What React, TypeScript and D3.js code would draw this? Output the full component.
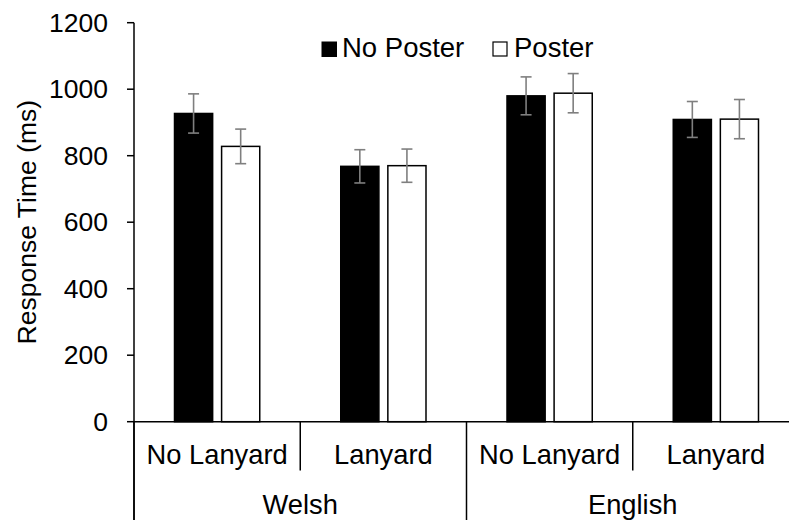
import React from "react";
import * as d3 from "d3";

const groups = ["Welsh", "English"];
const conditions = ["No Lanyard", "Lanyard"];
const seriesNames = ["No Poster", "Poster"];
const noPoster = [927, 768, 980, 909];
const poster = [828, 770, 988, 910];
const noPosterErr = [59, 50, 57, 54];
const posterErr = [52, 50, 59, 59];
const yTicks = [0, 200, 400, 600, 800, 1000, 1200];

const W = 789;
const H = 525;
const FONT = "'Liberation Sans', Arial, Helvetica, sans-serif";

export default function App() {
  const cells = groups.flatMap((g) => conditions.map((c) => `${g}|${c}`));
  const x = d3.scaleBand<string>().domain(cells).range([134, 799]).padding(0);
  const sub = d3
    .scaleBand<string>()
    .domain(seriesNames)
    .range([0, x.bandwidth()])
    .paddingInner(0.19)
    .paddingOuter(0.86);
  const y = d3.scaleLinear().domain([0, 1200]).range([421.7, 22.7]);
  const series = [
    { name: seriesNames[0], values: noPoster, errs: noPosterErr, fill: "#000000" },
    { name: seriesNames[1], values: poster, errs: posterErr, fill: "#ffffff" },
  ];
  const y0 = y(0);
  const groupW = x.bandwidth() * conditions.length;

  return (
    <svg
      width={W}
      height={H}
      style={{ position: "absolute", left: 0, top: 0, background: "#fff" }}
      fontFamily={FONT}
    >
      <rect x={0} y={0} width={W} height={H} fill="#fff" />
      {/* bars */}
      {series.map((s) =>
        cells.map((c, i) => {
          const bx = (x(c) as number) + (sub(s.name) as number);
          const top = y(s.values[i]);
          return (
            <rect
              key={s.name + c}
              x={bx}
              y={top}
              width={sub.bandwidth()}
              height={y0 - top}
              fill={s.fill}
              stroke="#000"
              strokeWidth={1.5}
            />
          );
        })
      )}
      {/* error bars */}
      {series.map((s) =>
        cells.map((c, i) => {
          const cx = (x(c) as number) + (sub(s.name) as number) + sub.bandwidth() / 2;
          const hi = y(s.values[i] + s.errs[i]);
          const lo = y(s.values[i] - s.errs[i]);
          return (
            <g key={"e" + s.name + c} stroke="#7f7f7f" strokeWidth={1.6}>
              <line x1={cx} x2={cx} y1={hi} y2={lo} />
              <line x1={cx - 5.5} x2={cx + 5.5} y1={hi} y2={hi} />
              <line x1={cx - 5.5} x2={cx + 5.5} y1={lo} y2={lo} />
            </g>
          );
        })
      )}
      {/* y axis */}
      <line x1={134} x2={134} y1={y(1200)} y2={520} stroke="#000" strokeWidth={1.5} />
      {yTicks.map((t) => (
        <g key={t}>
          <line x1={127} x2={134} y1={y(t)} y2={y(t)} stroke="#000" strokeWidth={1.5} />
          <text x={108} y={y(t)} dy="0.35em" textAnchor="end" fontSize={26.5} fill="#000">
            {t}
          </text>
        </g>
      ))}
      {/* x axis baseline */}
      <line x1={134} x2={W} y1={y0} y2={y0} stroke="#000" strokeWidth={1.5} />
      {/* category separators and labels */}
      {cells.map((c, i) => {
        const xs = x(c) as number;
        const isGroupStart = i % conditions.length === 0;
        return (
          <g key={"c" + c}>
            <line
              x1={xs}
              x2={xs}
              y1={y0}
              y2={isGroupStart ? 520 : 470.5}
              stroke="#000"
              strokeWidth={1.5}
            />
            <text
              x={xs + x.bandwidth() / 2}
              y={463.5}
              textAnchor="middle"
              fontSize={27.3}
              fill="#000"
            >
              {c.split("|")[1]}
            </text>
          </g>
        );
      })}
      {groups.map((g) => {
        const xs = x(`${g}|${conditions[0]}`) as number;
        return (
          <text
            key={"g" + g}
            x={xs + groupW / 2}
            y={513.5}
            textAnchor="middle"
            fontSize={27.3}
            fill="#000"
          >
            {g}
          </text>
        );
      })}
      {/* y axis title */}
      <text
        transform={`translate(36, ${(y(0) + y(1200)) / 2}) rotate(-90)`}
        textAnchor="middle"
        fontSize={26.5}
        fill="#000"
      >
        Response Time (ms)
      </text>
      {/* legend */}
      <rect x={322} y={42} width={14.5} height={14.5} fill="#000" stroke="#000" strokeWidth={1} />
      <text x={342} y={56.5} fontSize={27.5} fill="#000">
        {seriesNames[0]}
      </text>
      <rect x={493} y={42} width={14} height={14} fill="#fff" stroke="#000" strokeWidth={1.2} />
      <text x={514} y={56.5} fontSize={27.5} fill="#000">
        {seriesNames[1]}
      </text>
    </svg>
  );
}
